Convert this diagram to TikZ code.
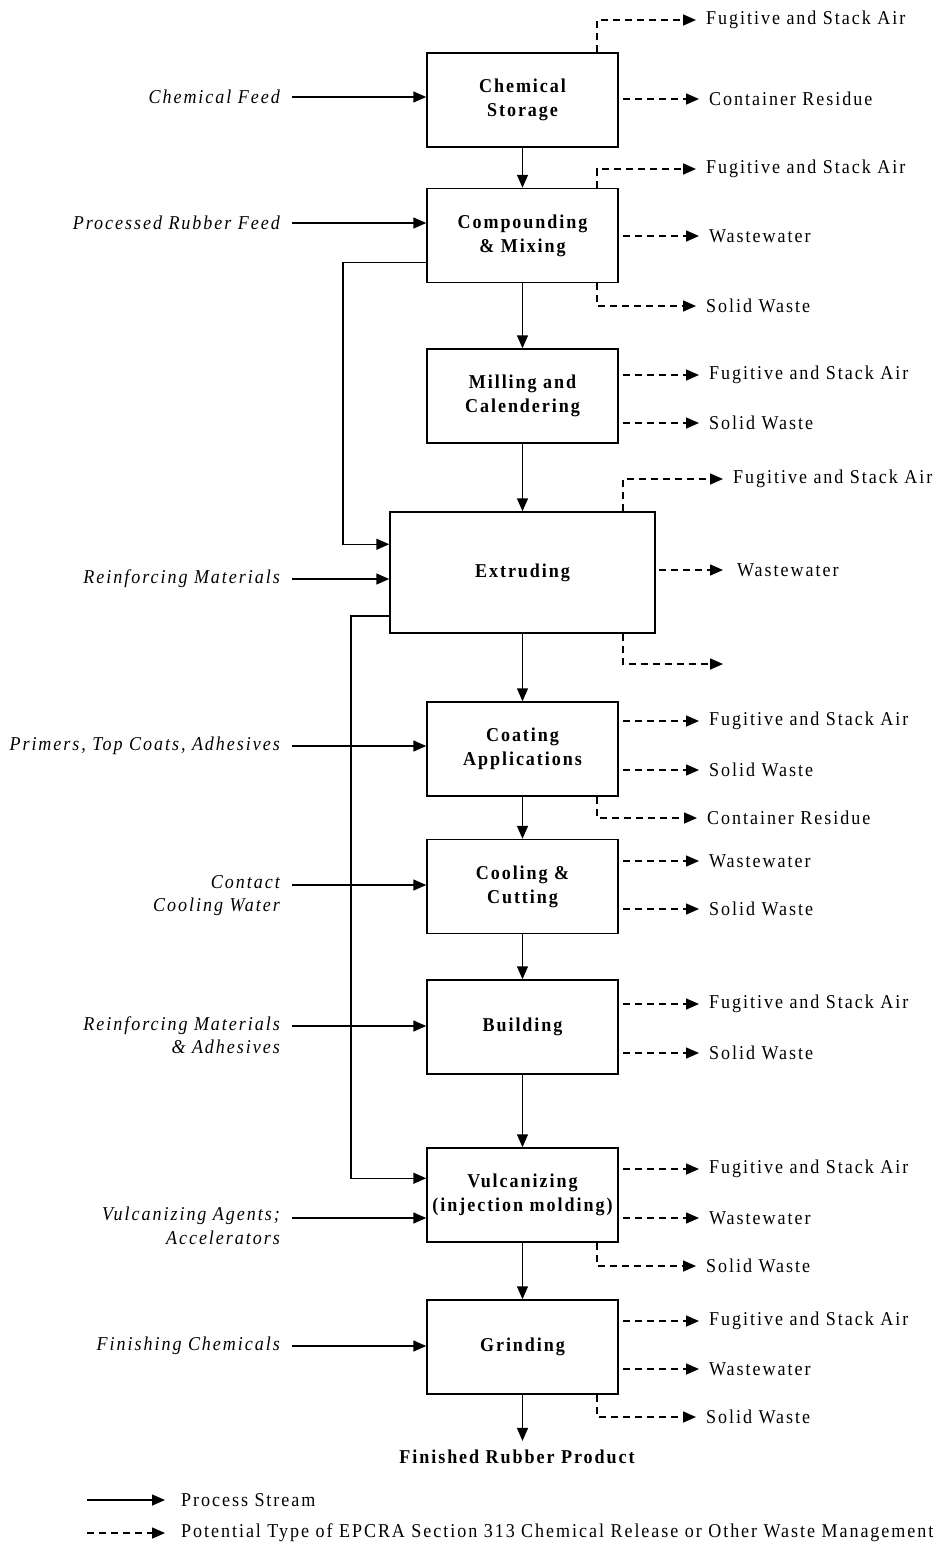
\documentclass[tikz,border=0pt]{standalone}
\usepackage{fontspec}
\setmainfont{Liberation Serif}[LetterSpace=10,FakeStretch=0.92]
\usetikzlibrary{arrows.meta}
\begin{document}
\begin{tikzpicture}[x=1pt,y=-1pt,
  every node/.style={font=\fontsize{19.6}{23.5}\selectfont},
  stage/.style={draw,line width=1.5pt,minimum width=191pt,minimum height=94pt,
    align=center,inner sep=0pt,font=\fontsize{19.6}{24}\selectfont\bfseries},
  feed/.style={anchor=east,align=right,inner sep=0pt,font=\fontsize{19.6}{23.5}\selectfont\itshape},
  waste/.style={anchor=west,inner sep=0pt},
  proc/.style={line width=1.5pt,-{Triangle[length=13pt,width=11pt]}},
  rel/.style={line width=1.6pt,dash pattern=on 7pt off 5pt,-{Triangle[length=13pt,width=11pt]}}]
\useasboundingbox (0,0) rectangle (943,1548);

% process stages
\node[stage] (b1) at (522.5,100) {Chemical\\Storage};
\node[stage] (b2) at (522.5,235.5) {Compounding\\\& Mixing};
\node[stage] (b3) at (522.5,396) {Milling and\\Calendering};
\node[stage,minimum width=265pt,minimum height=121pt] (b4) at (522.5,572.5) {Extruding};
\node[stage] (b5) at (522.5,749) {Coating\\Applications};
\node[stage] (b6) at (522.5,886.5) {Cooling \&\\Cutting};
\node[stage] (b7) at (522.5,1027) {Building};
\node[stage] (b8) at (522.5,1195) {Vulcanizing\\(injection molding)};
\node[stage] (b9) at (522.5,1347) {Grinding};
\node[inner sep=0pt,font=\fontsize{19.6}{23.5}\selectfont\bfseries] (fin) at (517,1457) {Finished Rubber Product};

% main process stream
\foreach \a/\b in {b1/b2,b2/b3,b3/b4,b4/b5,b5/b6,b6/b7,b7/b8,b8/b9}
  \draw[proc] (\a.south) -- (\b.north);
\draw[proc] (b9.south) -- ([yshift=9pt]fin.north -| b9.south);

% feeds
\node[feed] (f1) at (280,97) {Chemical Feed};
\node[feed] (f2) at (280,223) {Processed Rubber Feed};
\node[feed] (f4) at (280,579) {Reinforcing Materials};
\node[feed] (f5) at (280,746) {Primers, Top Coats, Adhesives};
\node[feed,anchor=north east] (f6) at (280,875) {Contact\\Cooling Water};
\node[feed,anchor=north east] (f7) at (280,1016) {Reinforcing Materials\\\& Adhesives};
\node[feed,anchor=north east] (f8) at (280,1207) {Vulcanizing Agents;\\Accelerators};
\node[feed] (f9) at (280,1346) {Finishing Chemicals};

\draw[proc] ([xshift=12pt]f1.east) -- (f1.east -| b1.west);
\draw[proc] ([xshift=12pt]f2.east) -- (f2.east -| b2.west);
\draw[proc] ([xshift=12pt]f4.east) -- (f4.east -| b4.west);
\draw[proc] ([xshift=12pt]f5.east) -- (f5.east -| b5.west);
\draw[proc] ([xshift=12pt,yshift=-10pt]f6.north east) -- ([yshift=-10pt]f6.north east -| b6.west);
\draw[proc] ([xshift=12pt,yshift=-10pt]f7.north east) -- ([yshift=-10pt]f7.north east -| b7.west);
\draw[proc] ([xshift=12pt,yshift=-11pt]f8.north east) -- ([yshift=-11pt]f8.north east -| b8.west);
\draw[proc] ([xshift=12pt]f9.east) -- (f9.east -| b9.west);

% recycle streams
\coordinate (loopA) at (343,400);
\coordinate (loopB) at (351,900);
\draw[proc] ([yshift=21pt]b2.south west) -| (loopA) |- ([yshift=-33pt]b4.north west);
\draw[proc] ([yshift=18pt]b4.south west) -| (loopB) |- ([yshift=-31pt]b8.north west);

% releases
\node[waste] (w1a) at (706,20) {Fugitive and Stack Air};
\node[waste] (w1b) at (709,99) {Container Residue};
\node[waste] (w2a) at (706,169) {Fugitive and Stack Air};
\node[waste] (w2b) at (709,236) {Wastewater};
\node[waste] (w2c) at (706,306) {Solid Waste};
\node[waste] (w3a) at (709,375) {Fugitive and Stack Air};
\node[waste] (w3b) at (709,423) {Solid Waste};
\node[waste] (w4a) at (733,479) {Fugitive and Stack Air};
\node[waste] (w4b) at (737,570) {Wastewater};
\coordinate (w4c) at (723,664);
\node[waste] (w5a) at (709,721) {Fugitive and Stack Air};
\node[waste] (w5b) at (709,770) {Solid Waste};
\node[waste] (w5c) at (707,818) {Container Residue};
\node[waste] (w6a) at (709,861) {Wastewater};
\node[waste] (w6b) at (709,909) {Solid Waste};
\node[waste] (w7a) at (709,1004) {Fugitive and Stack Air};
\node[waste] (w7b) at (709,1053) {Solid Waste};
\node[waste] (w8a) at (709,1169) {Fugitive and Stack Air};
\node[waste] (w8b) at (709,1218) {Wastewater};
\node[waste] (w8c) at (706,1266) {Solid Waste};
\node[waste] (w9a) at (709,1321) {Fugitive and Stack Air};
\node[waste] (w9b) at (709,1369) {Wastewater};
\node[waste] (w9c) at (706,1417) {Solid Waste};

% side outlets
\foreach \b/\w in {b1/w1b,b2/w2b,b3/w3a,b3/w3b,b5/w5a,b5/w5b,b6/w6a,b6/w6b,b7/w7a,b7/w7b,b8/w8a,b8/w8b,b9/w9a,b9/w9b}
  \draw[rel] ([xshift=4pt]\w.west -| \b.east) -- ([xshift=-10pt]\w.west);
\draw[rel] ([xshift=3pt]w4b.west -| b4.east) -- ([xshift=-14pt]w4b.west);
% top outlets
\foreach \b/\w in {b1/w1a,b2/w2a}
  \draw[rel] ([xshift=-22pt]\b.north east) |- ([xshift=-10pt]\w.west);
\draw[rel] ([xshift=-33pt]b4.north east) |- ([xshift=-10pt]w4a.west);
% bottom outlets
\foreach \b/\w in {b2/w2c,b5/w5c,b8/w8c,b9/w9c}
  \draw[rel] ([xshift=-22pt]\b.south east) |- ([xshift=-10pt]\w.west);
\draw[rel] ([xshift=-33pt]b4.south east) |- (w4c);

% legend
\node[waste] (lg1) at (181,1500) {Process Stream};
\node[waste] (lg2) at (181,1533) {Potential Type of EPCRA Section 313 Chemical Release or Other Waste Management};
\coordinate (lg1s) at (87,1500);
\coordinate (lg2s) at (87,1533);
\draw[proc] (lg1s) -- ([xshift=-16pt]lg1.west);
\draw[rel] (lg2s) -- ([xshift=-16pt]lg2.west);
\end{tikzpicture}
\end{document}
